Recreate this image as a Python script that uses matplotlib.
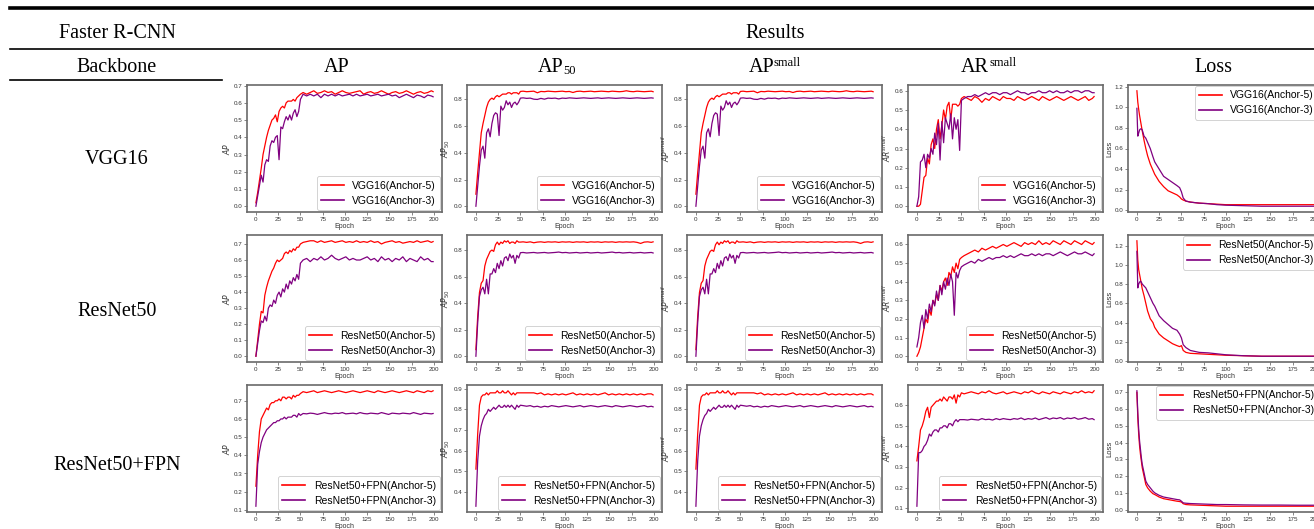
import matplotlib
matplotlib.use("Agg")
import matplotlib.pyplot as plt
from matplotlib.lines import Line2D

W, H = 1314, 529

# epochs sampled from the curves (dense early, coarser on the plateau)
EPOCHS = list(range(0, 51, 2)) + list(range(53, 198, 4)) + [199]
LOSS_EPOCHS = [0, 1, 2, 3, 4, 5, 6, 8, 10, 12, 15, 18, 20, 25, 30, 35, 40, 45,
               48, 50, 52, 55, 60, 70, 80, 90, 100, 120, 140, 160, 180, 199]

# ---------------- VGG16 ----------------
vgg_ap_a5 = [
    0.02, 0.08, 0.15, 0.22, 0.30, 0.35, 0.40, 0.44, 0.47, 0.50, 0.51, 0.53, 0.49,
    0.55, 0.57, 0.58, 0.57, 0.60, 0.61, 0.61, 0.61, 0.62, 0.61, 0.63, 0.64, 0.65,
    0.66, 0.65, 0.66, 0.67, 0.655, 0.66, 0.67, 0.66, 0.665, 0.65,
    0.66, 0.67, 0.66, 0.655, 0.66, 0.665, 0.67, 0.65, 0.66, 0.665,
    0.655, 0.66, 0.67, 0.66, 0.65, 0.66, 0.665, 0.655, 0.66, 0.67,
    0.66, 0.65, 0.66, 0.665, 0.655, 0.66, 0.67, 0.665]
vgg_ap_a3 = [
    0.00, 0.06, 0.12, 0.18, 0.14, 0.24, 0.27, 0.26, 0.35, 0.38, 0.37, 0.40, 0.41,
    0.27, 0.46, 0.45, 0.49, 0.52, 0.50, 0.53, 0.50, 0.54, 0.56, 0.52, 0.55, 0.62,
    0.65, 0.64, 0.65, 0.64, 0.65, 0.63, 0.65, 0.64, 0.65, 0.64,
    0.65, 0.64, 0.645, 0.65, 0.64, 0.65, 0.64, 0.645, 0.65, 0.64,
    0.645, 0.65, 0.64, 0.645, 0.65, 0.64, 0.645, 0.63, 0.64, 0.65,
    0.64, 0.63, 0.645, 0.64, 0.63, 0.645, 0.64, 0.635]
vgg_ap50_a5 = [
    0.09, 0.25, 0.40, 0.55, 0.62, 0.68, 0.74, 0.78, 0.80, 0.81, 0.80, 0.82, 0.83,
    0.82, 0.83, 0.84, 0.84, 0.84, 0.85, 0.85, 0.84, 0.85, 0.85, 0.85, 0.84, 0.86,
    0.862, 0.858, 0.860, 0.862, 0.850, 0.860, 0.858, 0.862, 0.860, 0.858,
    0.860, 0.862, 0.858, 0.860, 0.852, 0.860, 0.862, 0.858, 0.860, 0.862,
    0.858, 0.860, 0.862, 0.860, 0.858, 0.862, 0.860, 0.858, 0.860, 0.865,
    0.860, 0.858, 0.862, 0.860, 0.858, 0.860, 0.862, 0.858]
vgg_ap50_a3 = [
    0.00, 0.15, 0.30, 0.42, 0.45, 0.36, 0.55, 0.58, 0.52, 0.62, 0.68, 0.70, 0.69,
    0.53, 0.75, 0.72, 0.74, 0.79, 0.76, 0.78, 0.74, 0.77, 0.78, 0.76, 0.78, 0.81,
    0.812, 0.808, 0.810, 0.802, 0.800, 0.808, 0.802, 0.810, 0.808, 0.810,
    0.804, 0.810, 0.808, 0.812, 0.810, 0.808, 0.810, 0.812, 0.810, 0.808,
    0.810, 0.812, 0.808, 0.810, 0.812, 0.810, 0.808, 0.810, 0.812, 0.810,
    0.808, 0.810, 0.812, 0.810, 0.808, 0.810, 0.812, 0.810]
vgg_ar_a5 = [
    0.00, 0.00, 0.01, 0.08, 0.15, 0.16, 0.25, 0.22, 0.32, 0.35, 0.30, 0.40, 0.45,
    0.35, 0.42, 0.50, 0.45, 0.52, 0.54, 0.45, 0.53, 0.53, 0.53, 0.52, 0.53, 0.56,
    0.57, 0.56, 0.55, 0.57, 0.56, 0.54, 0.56, 0.55, 0.57, 0.56,
    0.55, 0.57, 0.56, 0.56, 0.55, 0.57, 0.56, 0.55, 0.56, 0.57,
    0.56, 0.55, 0.57, 0.56, 0.55, 0.56, 0.57, 0.56, 0.55, 0.56,
    0.57, 0.56, 0.55, 0.56, 0.57, 0.55, 0.56, 0.57]
vgg_ar_a3 = [
    0.00, 0.05, 0.23, 0.24, 0.27, 0.20, 0.27, 0.25, 0.30, 0.27, 0.38, 0.32, 0.43,
    0.24, 0.44, 0.33, 0.46, 0.43, 0.40, 0.48, 0.35, 0.46, 0.40, 0.45, 0.29, 0.55,
    0.56, 0.57, 0.57, 0.58, 0.57, 0.58, 0.59, 0.58, 0.59, 0.59,
    0.58, 0.59, 0.59, 0.58, 0.59, 0.60, 0.59, 0.59, 0.58, 0.59,
    0.59, 0.60, 0.59, 0.59, 0.60, 0.59, 0.60, 0.59, 0.59, 0.60,
    0.59, 0.60, 0.60, 0.59, 0.60, 0.60, 0.59, 0.59]
vgg_loss_a5 = [1.16, 1.05, 0.98, 0.92, 0.87, 0.82, 0.77, 0.68, 0.60, 0.53,
               0.45, 0.39, 0.35, 0.28, 0.23, 0.19, 0.17, 0.15, 0.13, 0.11,
               0.10, 0.09, 0.08, 0.07, 0.065, 0.06, 0.055, 0.055, 0.055, 0.055,
               0.055, 0.055]
vgg_loss_a3 = [0.99, 0.72, 0.75, 0.78, 0.79, 0.79, 0.78, 0.72, 0.70, 0.66,
               0.60, 0.52, 0.47, 0.40, 0.33, 0.30, 0.27, 0.24, 0.22, 0.18,
               0.12, 0.09, 0.08, 0.07, 0.065, 0.055, 0.05, 0.045, 0.04, 0.04,
               0.04, 0.04]

# ---------------- ResNet50 ----------------
res_ap_a5 = [
    0.00, 0.10, 0.20, 0.28, 0.27, 0.38, 0.43, 0.47, 0.50, 0.53, 0.55, 0.58, 0.60,
    0.59, 0.60, 0.61, 0.64, 0.65, 0.64, 0.66, 0.65, 0.67, 0.66, 0.68, 0.68, 0.70,
    0.71, 0.715, 0.72, 0.72, 0.71, 0.72, 0.71, 0.715, 0.72, 0.71,
    0.715, 0.72, 0.71, 0.715, 0.71, 0.72, 0.71, 0.715, 0.71, 0.72,
    0.71, 0.715, 0.70, 0.71, 0.715, 0.72, 0.71, 0.715, 0.705, 0.71,
    0.715, 0.71, 0.72, 0.71, 0.715, 0.72, 0.71, 0.715]
res_ap_a3 = [
    0.00, 0.08, 0.16, 0.22, 0.21, 0.25, 0.22, 0.30, 0.32, 0.31, 0.35, 0.33, 0.38,
    0.40, 0.37, 0.42, 0.40, 0.45, 0.42, 0.47, 0.45, 0.49, 0.47, 0.51, 0.48, 0.58,
    0.60, 0.61, 0.59, 0.61, 0.60, 0.62, 0.60, 0.61, 0.63, 0.61,
    0.60, 0.61, 0.62, 0.60, 0.61, 0.60, 0.60, 0.61, 0.62, 0.60,
    0.61, 0.59, 0.62, 0.60, 0.61, 0.59, 0.61, 0.60, 0.62, 0.59,
    0.61, 0.60, 0.59, 0.62, 0.60, 0.61, 0.59, 0.59]
res_ap50_a5 = [
    0.05, 0.30, 0.48, 0.55, 0.57, 0.68, 0.73, 0.76, 0.79, 0.80, 0.79, 0.84, 0.86,
    0.84, 0.86, 0.85, 0.87, 0.86, 0.87, 0.85, 0.86, 0.86, 0.85, 0.87, 0.86, 0.86,
    0.862, 0.858, 0.862, 0.855, 0.860, 0.862, 0.858, 0.862, 0.860, 0.862,
    0.858, 0.862, 0.860, 0.862, 0.858, 0.862, 0.860, 0.862, 0.858, 0.862,
    0.860, 0.862, 0.858, 0.862, 0.860, 0.862, 0.858, 0.862, 0.860, 0.862,
    0.860, 0.862, 0.858, 0.850, 0.860, 0.862, 0.858, 0.862]
res_ap50_a3 = [
    0.00, 0.25, 0.45, 0.50, 0.52, 0.47, 0.58, 0.47, 0.62, 0.62, 0.66, 0.63, 0.70,
    0.66, 0.72, 0.68, 0.74, 0.75, 0.72, 0.77, 0.74, 0.76, 0.70, 0.76, 0.74, 0.78,
    0.782, 0.778, 0.780, 0.782, 0.778, 0.780, 0.782, 0.778, 0.780, 0.782,
    0.785, 0.780, 0.782, 0.778, 0.780, 0.782, 0.778, 0.780, 0.782, 0.778,
    0.780, 0.782, 0.778, 0.780, 0.782, 0.785, 0.780, 0.782, 0.778, 0.780,
    0.782, 0.778, 0.780, 0.782, 0.778, 0.780, 0.782, 0.778]
res_ar_a5 = [
    0.00, 0.02, 0.05, 0.10, 0.15, 0.20, 0.18, 0.25, 0.22, 0.30, 0.28, 0.33, 0.30,
    0.38, 0.35, 0.40, 0.42, 0.38, 0.45, 0.43, 0.48, 0.45, 0.50, 0.47, 0.52, 0.53,
    0.54, 0.55, 0.56, 0.57, 0.56, 0.58, 0.57, 0.58, 0.59, 0.58,
    0.59, 0.60, 0.59, 0.60, 0.61, 0.60, 0.59, 0.61, 0.60, 0.61,
    0.60, 0.62, 0.60, 0.61, 0.60, 0.62, 0.61, 0.60, 0.62, 0.61,
    0.60, 0.62, 0.61, 0.60, 0.62, 0.61, 0.60, 0.61]
res_ar_a3 = [
    0.05, 0.10, 0.18, 0.22, 0.15, 0.25, 0.20, 0.28, 0.24, 0.30, 0.27, 0.35, 0.30,
    0.38, 0.33, 0.40, 0.36, 0.42, 0.38, 0.44, 0.40, 0.22, 0.45, 0.42, 0.46, 0.48,
    0.49, 0.50, 0.51, 0.50, 0.52, 0.51, 0.52, 0.53, 0.52, 0.53,
    0.53, 0.54, 0.53, 0.54, 0.53, 0.54, 0.55, 0.54, 0.54, 0.55,
    0.54, 0.55, 0.54, 0.55, 0.55, 0.54, 0.55, 0.56, 0.55, 0.54,
    0.55, 0.56, 0.55, 0.55, 0.56, 0.55, 0.54, 0.55]
res_loss_a5 = [1.25, 1.05, 0.95, 0.90, 0.85, 0.80, 0.75, 0.68, 0.60, 0.52,
               0.44, 0.40, 0.35, 0.28, 0.24, 0.21, 0.18, 0.16, 0.15, 0.16,
               0.11, 0.09, 0.08, 0.075, 0.07, 0.065, 0.06, 0.055, 0.05, 0.05,
               0.05, 0.05]
res_loss_a3 = [1.14, 0.76, 0.80, 0.82, 0.83, 0.82, 0.80, 0.78, 0.76, 0.72,
               0.66, 0.60, 0.57, 0.47, 0.42, 0.38, 0.34, 0.32, 0.28, 0.24,
               0.17, 0.14, 0.11, 0.09, 0.085, 0.075, 0.065, 0.055, 0.05, 0.05,
               0.05, 0.05]

# ---------------- ResNet50+FPN ----------------
fpn_ap_a5 = [
    0.23, 0.40, 0.53, 0.60, 0.62, 0.64, 0.66, 0.65, 0.68, 0.69, 0.69, 0.70, 0.70,
    0.71, 0.70, 0.72, 0.72, 0.71, 0.72, 0.72, 0.71, 0.73, 0.72, 0.73, 0.73, 0.74,
    0.75, 0.745, 0.75, 0.755, 0.745, 0.75, 0.755, 0.75, 0.745, 0.75,
    0.755, 0.75, 0.745, 0.75, 0.755, 0.75, 0.745, 0.75, 0.755, 0.75,
    0.745, 0.755, 0.75, 0.745, 0.75, 0.755, 0.75, 0.745, 0.75, 0.755,
    0.75, 0.745, 0.755, 0.75, 0.745, 0.755, 0.75, 0.755]
fpn_ap_a3 = [
    0.12, 0.35, 0.42, 0.47, 0.50, 0.52, 0.54, 0.55, 0.56, 0.57, 0.58, 0.58, 0.59,
    0.59, 0.60, 0.60, 0.61, 0.60, 0.61, 0.61, 0.61, 0.62, 0.62, 0.61, 0.63, 0.62,
    0.63, 0.628, 0.632, 0.63, 0.625, 0.63, 0.635, 0.63, 0.628, 0.632,
    0.63, 0.635, 0.628, 0.63, 0.632, 0.628, 0.635, 0.63, 0.628, 0.632,
    0.63, 0.628, 0.635, 0.63, 0.625, 0.632, 0.63, 0.628, 0.632, 0.63,
    0.628, 0.635, 0.63, 0.625, 0.632, 0.63, 0.628, 0.63]
fpn_ap50_a5 = [
    0.51, 0.68, 0.82, 0.86, 0.87, 0.87, 0.88, 0.87, 0.88, 0.88, 0.88, 0.88, 0.89,
    0.88, 0.88, 0.89, 0.88, 0.88, 0.89, 0.88, 0.87, 0.88, 0.87, 0.88, 0.88, 0.88,
    0.88, 0.88, 0.88, 0.88, 0.875, 0.88, 0.87, 0.875, 0.87, 0.875,
    0.87, 0.875, 0.87, 0.875, 0.88, 0.87, 0.875, 0.87, 0.875, 0.87,
    0.875, 0.87, 0.875, 0.88, 0.87, 0.875, 0.87, 0.875, 0.87, 0.875,
    0.87, 0.875, 0.87, 0.875, 0.87, 0.875, 0.875, 0.87]
fpn_ap50_a3 = [
    0.33, 0.55, 0.67, 0.72, 0.75, 0.77, 0.78, 0.80, 0.79, 0.80, 0.81, 0.80, 0.81,
    0.82, 0.81, 0.81, 0.82, 0.81, 0.82, 0.81, 0.82, 0.81, 0.80, 0.82, 0.81, 0.82,
    0.818, 0.815, 0.818, 0.812, 0.815, 0.81, 0.815, 0.812, 0.818, 0.815,
    0.812, 0.815, 0.818, 0.815, 0.812, 0.815, 0.818, 0.812, 0.815, 0.818,
    0.815, 0.812, 0.815, 0.818, 0.815, 0.812, 0.818, 0.815, 0.812, 0.815,
    0.818, 0.815, 0.812, 0.815, 0.818, 0.812, 0.815, 0.812]
fpn_ar_a5 = [
    0.33, 0.40, 0.48, 0.50, 0.53, 0.57, 0.59, 0.54, 0.59, 0.60, 0.61, 0.62, 0.62,
    0.63, 0.62, 0.64, 0.63, 0.62, 0.64, 0.64, 0.63, 0.65, 0.61, 0.65, 0.64, 0.66,
    0.655, 0.66, 0.665, 0.66, 0.655, 0.665, 0.66, 0.67, 0.66, 0.655,
    0.66, 0.665, 0.655, 0.66, 0.665, 0.66, 0.655, 0.665, 0.66, 0.67,
    0.66, 0.655, 0.665, 0.66, 0.655, 0.665, 0.66, 0.655, 0.665, 0.66,
    0.655, 0.665, 0.66, 0.67, 0.66, 0.665, 0.66, 0.67]
fpn_ar_a3 = [
    0.11, 0.37, 0.37, 0.38, 0.40, 0.41, 0.43, 0.46, 0.45, 0.47, 0.48, 0.48, 0.47,
    0.49, 0.49, 0.50, 0.50, 0.49, 0.51, 0.51, 0.50, 0.52, 0.53, 0.52, 0.53, 0.53,
    0.53, 0.528, 0.532, 0.53, 0.528, 0.535, 0.53, 0.532, 0.528, 0.535,
    0.53, 0.535, 0.532, 0.53, 0.535, 0.532, 0.538, 0.53, 0.535, 0.532,
    0.538, 0.53, 0.535, 0.54, 0.532, 0.538, 0.535, 0.54, 0.532, 0.538,
    0.535, 0.54, 0.532, 0.535, 0.54, 0.532, 0.535, 0.53]
fpn_loss_a5 = [0.70, 0.55, 0.45, 0.38, 0.33, 0.29, 0.25, 0.20, 0.15, 0.13,
               0.11, 0.095, 0.09, 0.075, 0.065, 0.06, 0.055, 0.05, 0.048, 0.045,
               0.035, 0.03, 0.028, 0.026, 0.024, 0.022, 0.02, 0.02, 0.02, 0.02,
               0.02, 0.02]
fpn_loss_a3 = [0.71, 0.58, 0.48, 0.41, 0.36, 0.31, 0.27, 0.22, 0.17, 0.15,
               0.13, 0.11, 0.10, 0.085, 0.075, 0.07, 0.065, 0.06, 0.058, 0.05,
               0.04, 0.038, 0.036, 0.034, 0.032, 0.03, 0.03, 0.028, 0.027, 0.027,
               0.026, 0.026]

backbones = ["VGG16", "ResNet50", "ResNet50+FPN"]
ylabels = ["$AP$", "$AP_{50}$", "$AP^{small}$", "$AR^{small}$", "Loss"]

# AP50 and AP-small curves are the same in the source figure
rows = [
    [(vgg_ap_a5, vgg_ap_a3), (vgg_ap50_a5, vgg_ap50_a3), (vgg_ap50_a5, vgg_ap50_a3),
     (vgg_ar_a5, vgg_ar_a3), (vgg_loss_a5, vgg_loss_a3)],
    [(res_ap_a5, res_ap_a3), (res_ap50_a5, res_ap50_a3), (res_ap50_a5, res_ap50_a3),
     (res_ar_a5, res_ar_a3), (res_loss_a5, res_loss_a3)],
    [(fpn_ap_a5, fpn_ap_a3), (fpn_ap50_a5, fpn_ap50_a3), (fpn_ap50_a5, fpn_ap50_a3),
     (fpn_ar_a5, fpn_ar_a3), (fpn_loss_a5, fpn_loss_a3)],
]

plt.rcParams["font.family"] = ["Liberation Sans", "DejaVu Sans"]
fig = plt.figure(figsize=(W / 100, H / 100), dpi=100)


def fx(x):
    return x / W


def fy(y):
    return 1 - y / H


# --- table rules and headers ---
serif = "Liberation Serif"
hsize = 14.5
fig.add_artist(Line2D([fx(10), fx(W)], [fy(8), fy(8)], color="black", lw=2.6))
fig.add_artist(Line2D([fx(10), fx(W)], [fy(49), fy(49)], color="black", lw=1.2))
fig.add_artist(Line2D([fx(10), fx(222)], [fy(80), fy(80)], color="black", lw=1.2))

fig.text(fx(117), fy(33), "Faster R-CNN", family=serif, size=hsize, ha="center", va="center")
fig.text(fx(775), fy(33), "Results", family=serif, size=hsize, ha="center", va="center")
fig.text(fx(117), fy(68), "Backbone", family=serif, size=hsize, ha="center", va="center")
fig.text(fx(337), fy(68), "AP", family=serif, size=hsize, ha="center", va="center")
fig.text(fx(1213), fy(68), "Loss", family=serif, size=hsize, ha="center", va="center")

for i, name in enumerate(backbones):
    fig.text(fx(117), fy([160, 312, 465][i]), name, family=serif, size=hsize,
             ha="center", va="center")

# --- small plots ---
lefts = [247, 467, 687, 908, 1128]
tops = [85, 235, 385]
aw, ah = 195, 127
axes_list = []
for r, name in enumerate(backbones):
    for c in range(5):
        ax = fig.add_axes([fx(lefts[c]), fy(tops[r] + ah), aw / W, ah / H])
        axes_list.append(ax)
        y5, y3 = rows[r][c]
        xs = LOSS_EPOCHS if c == 4 else EPOCHS
        ax.plot(xs, y5, color="red", lw=0.9, label=f"{name}(Anchor-5)")
        ax.plot(xs, y3, color="purple", lw=0.9, label=f"{name}(Anchor-3)")
        ax.set_xticks([0, 25, 50, 75, 100, 125, 150, 175, 200])
        ax.set_xlim(-10, 209)
        for s in ax.spines.values():
            s.set_color("#6a6a6a")
            s.set_linewidth(1.2)
        ax.tick_params(labelsize=4.5, length=2, width=0.5, pad=1.5,
                       colors="#555555", labelcolor="#333333")
        ax.set_xlabel("Epoch", fontsize=5, labelpad=1, color="#333333")
        ax.set_ylabel(ylabels[c], fontsize=5.5, labelpad=1, color="#333333")
        if c == 4:
            # the loss panel runs off the page edge; keep its legend text on the page
            leg = ax.legend(loc="upper right", fontsize=7.5, borderaxespad=0,
                            bbox_to_anchor=(fx(1318), fy(tops[r] + 1)),
                            bbox_transform=fig.transFigure, handlelength=2.2,
                            framealpha=1.0, edgecolor="#cccccc")
        else:
            leg = ax.legend(loc="lower right", fontsize=7.5, borderaxespad=0.2,
                            handlelength=2.2, framealpha=1.0, edgecolor="#cccccc")
        leg.get_frame().set_linewidth(0.6)
        for ln in leg.get_lines():
            ln.set_linewidth(1.2)

# column headers with sub/superscripts
ax0 = axes_list[0]
for xc, base, script, sup, shift in [(557, "AP", "50", False, 6),
                                     (775, "AP", "small", True, -1),
                                     (990, "AR", "small", True, -1)]:
    t = fig.text(fx(xc + shift), fy(68), base, family=serif, size=hsize, ha="right", va="center")
    ax0.annotate(script, xy=(1.0, 1.1 if sup else 0.04), xycoords=t, family=serif,
                 size=hsize * 0.62, ha="left", va="top" if sup else "bottom",
                 annotation_clip=False)

fig.savefig("out.png", dpi=100)
